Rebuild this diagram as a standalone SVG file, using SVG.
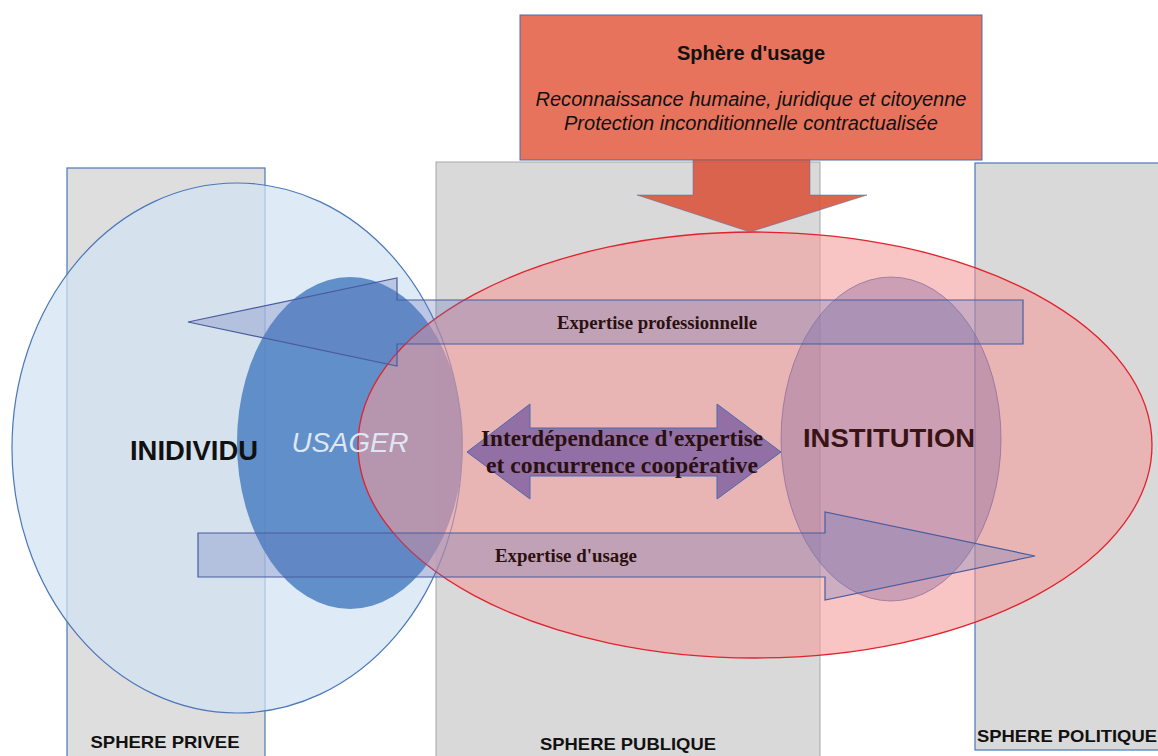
<svg xmlns="http://www.w3.org/2000/svg" width="1158" height="756" viewBox="0 0 1158 756">
<style>
.sphere{fill:#d9d9d9}
.lbl{font-family:"Liberation Sans",Arial,sans-serif;font-weight:bold;font-size:17px;fill:#111}
.ser{font-family:"Liberation Serif","Times New Roman",serif;font-weight:bold;fill:#2a1010}
.arr{fill:#6478b8;fill-opacity:0.3;stroke:#4a5c9e;stroke-width:1.2}
</style>
<rect width="1158" height="756" fill="#ffffff"/>
<g id="sphere-privee">
<rect x="67" y="168" width="198" height="600" fill="#dedede" stroke="#4a78b8" stroke-width="1.2"/>
</g>
<g id="sphere-publique">
<rect x="436" y="162" width="384" height="600" class="sphere" stroke="#a8a8a8" stroke-width="1"/>
</g>
<g id="sphere-politique">
<rect x="975" y="163" width="190" height="587" class="sphere" stroke="#4a78b8" stroke-width="1.2"/>
</g>
<g id="individu">
<ellipse cx="237" cy="448" rx="225" ry="265" fill="#d2e2f4" fill-opacity="0.72" stroke="#4a78b8" stroke-width="1.2"/>
</g>
<g id="usager">
<ellipse cx="350" cy="443" rx="113" ry="166" fill="#4a7fc2" fill-opacity="0.85"/>
</g>
<g id="sphere-usage-zone">
<ellipse cx="755" cy="445" rx="397" ry="213" fill="#f59a9a" fill-opacity="0.58" stroke="#e2222c" stroke-width="1.3"/>
</g>
<g id="institution">
<ellipse cx="891" cy="439" rx="110" ry="162" fill="#8a6aa0" fill-opacity="0.4" stroke="#7a6096" stroke-width="1" stroke-opacity="0.6"/>
</g>
<g id="sphere-usage">
<rect x="520" y="15" width="462" height="145" fill="#e8735c" stroke="#4a6aa8" stroke-width="1"/>
<text x="751" y="60" text-anchor="middle" font-family="Liberation Sans,Arial,sans-serif" font-weight="bold" font-size="20" fill="#111">Sphère d'usage</text>
<text x="751" y="106" text-anchor="middle" font-family="Liberation Sans,Arial,sans-serif" font-style="italic" font-size="20" fill="#111" textLength="431" lengthAdjust="spacingAndGlyphs">Reconnaissance humaine, juridique et citoyenne</text>
<text x="751" y="130" text-anchor="middle" font-family="Liberation Sans,Arial,sans-serif" font-style="italic" font-size="20" fill="#111" textLength="374" lengthAdjust="spacingAndGlyphs">Protection inconditionnelle contractualisée</text>
</g>
<g id="connectors">
<polygon points="693,160 810,160 810,195 867,195 750,232 637,195 693,195" fill="#d8553c" fill-opacity="0.9" stroke="#4a6aa8" stroke-width="0.8" stroke-opacity="0.6"/>
<polygon class="arr" points="1023,300 1023,344 397,344 397,366 188,322 397,278 397,300"/>
<polygon class="arr" points="198,533 825,533 825,512 1035,556 825,600 825,577 198,577"/>
<polygon points="467,452 530,404 530,428 717,428 717,404 781,452 717,499 717,476 530,476 530,499" fill="#9270a6" stroke="#4a6aa8" stroke-width="1"/>
</g>
<g id="labels">
<text x="194" y="460" text-anchor="middle" font-family="Liberation Sans,Arial,sans-serif" font-weight="bold" font-size="27" fill="#111" textLength="128" lengthAdjust="spacingAndGlyphs">INIDIVIDU</text>
<text x="350" y="452" text-anchor="middle" font-family="Liberation Sans,Arial,sans-serif" font-style="italic" font-size="27" fill="#dfe6f3" textLength="117" lengthAdjust="spacingAndGlyphs">USAGER</text>
<text x="889" y="447" text-anchor="middle" font-family="Liberation Sans,Arial,sans-serif" font-weight="bold" font-size="26" fill="#3a1414" textLength="172" lengthAdjust="spacingAndGlyphs">INSTITUTION</text>
<text x="622" y="446" text-anchor="middle" class="ser" font-size="23" textLength="282" lengthAdjust="spacingAndGlyphs">Interdépendance d'expertise</text>
<text x="622" y="473" text-anchor="middle" class="ser" font-size="23" textLength="272" lengthAdjust="spacingAndGlyphs">et concurrence coopérative</text>
<text x="657" y="329" text-anchor="middle" class="ser" font-size="18" textLength="200" lengthAdjust="spacingAndGlyphs">Expertise professionnelle</text>
<text x="566" y="562" text-anchor="middle" class="ser" font-size="18" textLength="142" lengthAdjust="spacingAndGlyphs">Expertise d'usage</text>
<text x="165" y="748" text-anchor="middle" class="lbl" textLength="149" lengthAdjust="spacingAndGlyphs">SPHERE PRIVEE</text>
<text x="628" y="750" text-anchor="middle" class="lbl" textLength="176" lengthAdjust="spacingAndGlyphs">SPHERE PUBLIQUE</text>
<text x="1067" y="742" text-anchor="middle" class="lbl" textLength="180" lengthAdjust="spacingAndGlyphs">SPHERE POLITIQUE</text>
</g>
</svg>
